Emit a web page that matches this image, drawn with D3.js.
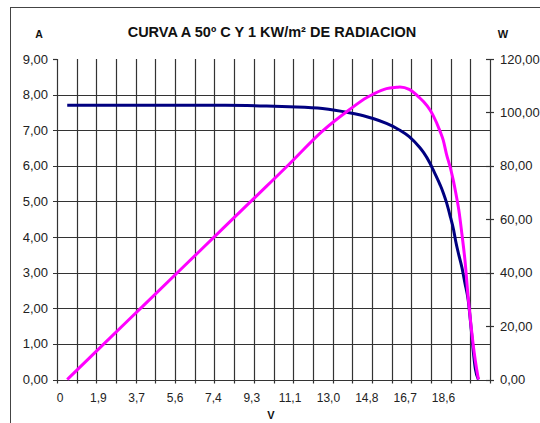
<!DOCTYPE html>
<html>
<head>
<meta charset="utf-8">
<script src="https://cdn.jsdelivr.net/npm/d3@7"></script>
<style>
  body { margin: 0; background: #fff; }
  svg { display: block; font-family: "Liberation Sans", Arial, sans-serif; }
</style>
</head>
<body>
<svg id="chart" width="540" height="423"></svg>
<script>

// Voltage samples (V).
var volts = [
  0.35, 2, 4, 6, 8, 10, 11.1, 12.7, 14.0, 14.85, 15.15, 15.8, 16.3, 16.45,
  16.9, 17.4, 17.6, 17.9, 18.05, 18.4, 18.55, 18.7, 18.9, 19.05, 19.15,
  19.3, 19.45, 19.6, 19.75, 19.9, 20.0, 20.1, 20.25
];

// Current (A), left axis.
var amps = [
  7.70, 7.70, 7.70, 7.70, 7.70, 7.68, 7.66, 7.61, 7.49, 7.38, 7.33, 7.19,
  7.05, 7.00, 6.82, 6.52, 6.37, 6.08, 5.90, 5.46, 5.24, 4.98, 4.55, 4.20,
  3.88, 3.50, 3.15, 2.70, 2.25, 1.42, 0.80, 0.30, 0
];

// Power (W), right axis.
var watts = [
  0, 12.4, 27.4, 42.4, 57.4, 72.4, 80.7, 93.0, 101, 105.6, 106.8, 108.9,
  109.4, 109.5, 108.6, 105.5, 104, 101, 99, 92.8, 89.5, 84.5, 79, 74, 70,
  63.5, 54.5, 44.5, 31, 19.5, 12.8, 7, 0
];

// Axis ticks.
var xTickValues = [0, 1.856, 3.712, 5.568, 7.424, 9.28, 11.136, 12.992,
  14.848, 16.704, 18.56];
var xTickLabels = ['0', '1,9', '3,7', '5,6', '7,4', '9,3', '11,1', '13,0',
  '14,8', '16,7', '18,6'];
var ampTicks = [0, 1, 2, 3, 4, 5, 6, 7, 8, 9];
var wattTicks = [0, 20, 40, 60, 80, 100, 120];

var title = 'CURVA A 50º C Y 1 KW/m² DE RADIACION';


var svg = d3.select('#chart');

var plotL = 57, plotR = 490, plotT = 59, plotB = 379.5;
var gridColor = '#333';

// Scales.
var x = d3.scaleLinear().domain([-0.145, 20.81]).range([plotL, plotR]);
var yA = d3.scaleLinear().domain([0, 9]).range([plotB, plotT]);
var yW = d3.scaleLinear().domain([0, 120]).range([plotB, plotT]);

var snap = function(v) { return Math.round(v) + 0.5; };
var fmt = function(d) { return d3.format('.2f')(d).replace('.', ','); };

// Outer frame (cropped on the right and bottom like the source).
svg.append('rect')
  .attr('x', 10.5).attr('y', 7.5)
  .attr('width', 600).attr('height', 500)
  .attr('fill', 'none').attr('stroke', '#444').attr('stroke-width', 1);

// Vertical grid: 22 equal cells across the plot.
var dom = x.domain();
var gridVolts = d3.range(23).map(function(i) {
  return dom[0] + i * (dom[1] - dom[0]) / 22;
});

svg.append('g').selectAll('line')
  .data(gridVolts)
  .join('line')
  .attr('x1', function(d) { return snap(x(d)); })
  .attr('x2', function(d) { return snap(x(d)); })
  .attr('y1', plotT)
  .attr('y2', plotB + 4)
  .attr('stroke', gridColor)
  .attr('stroke-width', 1.2);

// Horizontal grid, with small outside ticks on the left.
svg.append('g').selectAll('line')
  .data(ampTicks.filter(function(d) { return d < 9; }))
  .join('line')
  .attr('x1', plotL - 4)
  .attr('x2', plotR)
  .attr('y1', function(d) { return snap(yA(d)); })
  .attr('y2', function(d) { return snap(yA(d)); })
  .attr('stroke', gridColor)
  .attr('stroke-width', 1.2);

// Top tick of the left axis.
svg.append('line')
  .attr('x1', plotL - 4).attr('x2', plotL)
  .attr('y1', snap(yA(9))).attr('y2', snap(yA(9)))
  .attr('stroke', gridColor).attr('stroke-width', 1.2);

// Right axis ticks cross the axis line.
svg.append('g').selectAll('line')
  .data(wattTicks)
  .join('line')
  .attr('x1', plotR - 4)
  .attr('x2', plotR + 4)
  .attr('y1', function(d) { return snap(yW(d)); })
  .attr('y2', function(d) { return snap(yW(d)); })
  .attr('stroke', gridColor)
  .attr('stroke-width', 1.2);

// Left tick labels.
svg.append('g').selectAll('text')
  .data(ampTicks)
  .join('text')
  .attr('x', 48)
  .attr('y', function(d) { return yA(d); })
  .attr('dy', '0.35em')
  .attr('text-anchor', 'end')
  .attr('font-size', 13)
  .attr('fill', '#222')
  .text(fmt);

// Right tick labels.
svg.append('g').selectAll('text')
  .data(wattTicks)
  .join('text')
  .attr('x', 500)
  .attr('y', function(d) { return yW(d); })
  .attr('dy', '0.35em')
  .attr('font-size', 13)
  .attr('fill', '#222')
  .text(fmt);

// Bottom tick labels.
svg.append('g').selectAll('text')
  .data(xTickValues)
  .join('text')
  .attr('x', function(d) { return x(d); })
  .attr('y', 402)
  .attr('text-anchor', 'middle')
  .attr('font-size', 12)
  .attr('fill', '#222')
  .text(function(d, i) { return xTickLabels[i]; });

// Titles.
svg.append('text')
  .attr('x', 272).attr('y', 36.5)
  .attr('text-anchor', 'middle')
  .attr('font-size', 14.5).attr('font-weight', 'bold')
  .attr('fill', '#111')
  .text(title);

svg.append('text')
  .attr('x', 39).attr('y', 38)
  .attr('text-anchor', 'middle')
  .attr('font-size', 10.5).attr('font-weight', 'bold')
  .attr('fill', '#111')
  .text('A');

svg.append('text')
  .attr('x', 503).attr('y', 38)
  .attr('text-anchor', 'middle')
  .attr('font-size', 11).attr('font-weight', 'bold')
  .attr('fill', '#111')
  .text('W');

svg.append('text')
  .attr('x', 271).attr('y', 419)
  .attr('text-anchor', 'middle')
  .attr('font-size', 11).attr('font-weight', 'bold')
  .attr('fill', '#111')
  .text('V');

// Curves.
var ampLine = d3.line()
  .x(function(d, i) { return x(volts[i]); })
  .y(function(d) { return yA(d); })
  .curve(d3.curveMonotoneX);

var wattLine = d3.line()
  .x(function(d, i) { return x(volts[i]); })
  .y(function(d) { return yW(d); })
  .curve(d3.curveMonotoneX);

svg.append('path')
  .attr('d', ampLine(amps))
  .attr('fill', 'none')
  .attr('stroke', '#000080')
  .attr('stroke-width', 3);

svg.append('path')
  .attr('d', wattLine(watts))
  .attr('fill', 'none')
  .attr('stroke', '#ff00ff')
  .attr('stroke-width', 3);

</script>
</body>
</html>
